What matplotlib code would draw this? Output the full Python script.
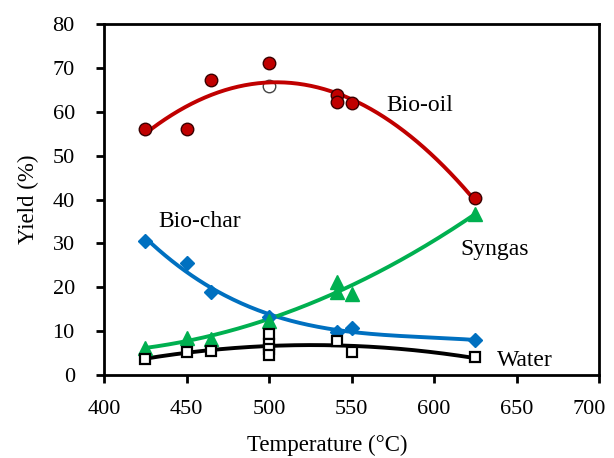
import numpy as np
import matplotlib
matplotlib.use("Agg")
import matplotlib.pyplot as plt
import matplotlib.transforms as mtransforms

plt.rcParams['font.family'] = ['Liberation Serif', 'DejaVu Serif']

# Data
oil_T = [425, 450, 465, 500, 541, 541, 550, 625]
oil_Y = [56.0, 56.0, 67.2, 71.2, 63.8, 62.2, 61.9, 40.3]
oil_open_T = [500]
oil_open_Y = [65.8]

char_T = [425, 450, 465, 500, 541, 550, 625]
char_Y = [30.6, 25.5, 18.9, 13.2, 9.8, 10.7, 7.9]

gas_T = [425, 450, 465, 500, 541, 541, 550, 625]
gas_Y = [6.1, 8.5, 8.2, 12.3, 21.2, 19.0, 18.5, 36.7]

water_T = [425, 450, 465, 500, 500, 500, 500, 541, 550, 625]
water_Y = [3.6, 5.2, 5.5, 9.4, 7.0, 6.0, 4.5, 7.8, 5.2, 4.0]

x_ticks = [400, 450, 500, 550, 600, 650, 700]
y_ticks = [0, 10, 20, 30, 40, 50, 60, 70, 80]

RED = '#C00000'
BLUE = '#0070C0'
GREEN = '#00B050'

fig = plt.figure(figsize=(6.14, 4.58), dpi=100)
ax = fig.add_axes([0.1694, 0.1812, 0.8062, 0.7664])

xx = np.linspace(425, 625, 200)

def trend(T, Y, deg=2):
    c = np.polyfit(T, Y, deg)
    return np.polyval(c, xx)

ax.plot(xx, trend(oil_T + oil_open_T, oil_Y + oil_open_Y), color=RED, lw=2.8, zorder=2)
ax.plot(xx, trend(char_T, char_Y, 3), color=BLUE, lw=2.8, zorder=2)
ax.plot(xx, trend(gas_T, gas_Y), color=GREEN, lw=2.8, zorder=2)
ax.plot(xx, trend(water_T, water_Y), color='black', lw=2.8, zorder=2)

ax.plot(oil_T, oil_Y, 'o', ms=9, mfc=RED, mec='#3a0000', mew=1.0, ls='none', zorder=3)
ax.plot(oil_open_T, oil_open_Y, 'o', ms=9, mfc='white', mec='#444444', mew=1.0, ls='none', zorder=1)
ax.plot(char_T, char_Y, 'D', ms=7, mfc=BLUE, mec=BLUE, ls='none', zorder=3)
ax.plot(gas_T, gas_Y, '^', ms=10, mfc=GREEN, mec=GREEN, ls='none', zorder=3)
ax.plot(water_T, water_Y, 's', ms=7, mfc='white', mec='black', mew=1.6, ls='none', zorder=3)

fs_ann = 17
ax.text(571, 61.5, 'Bio-oil', fontsize=fs_ann, va='center', ha='left')
ax.text(432.7, 34.9, 'Bio-char', fontsize=fs_ann, va='center', ha='left')
ax.text(615.8, 28.5, 'Syngas', fontsize=fs_ann, va='center', ha='left')
ax.text(638, 3.4, 'Water', fontsize=fs_ann, va='center', ha='left')

ax.set_xlim(400, 700)
ax.set_ylim(0, 80)
ax.set_xticks(x_ticks)
ax.set_yticks(y_ticks)
ax.tick_params(direction='out', length=6, width=2, labelsize=16)
ax.tick_params(axis='y', pad=15)
ax.tick_params(axis='x', pad=12)
for s in ax.spines.values():
    s.set_linewidth(2)
ax.set_xlabel('Temperature (°C)', fontsize=16.5, labelpad=15)
ax.xaxis.set_label_coords(0.45, -0.17)
ax.set_ylabel('Yield (%)', fontsize=16.5, labelpad=10)

# keep the last x tick label inside the canvas
last = ax.get_xticklabels()[-1]
last.set_transform(last.get_transform() +
                   mtransforms.ScaledTranslation(-0.1, 0, fig.dpi_scale_trans))

fig.savefig('out.png', dpi=100)
